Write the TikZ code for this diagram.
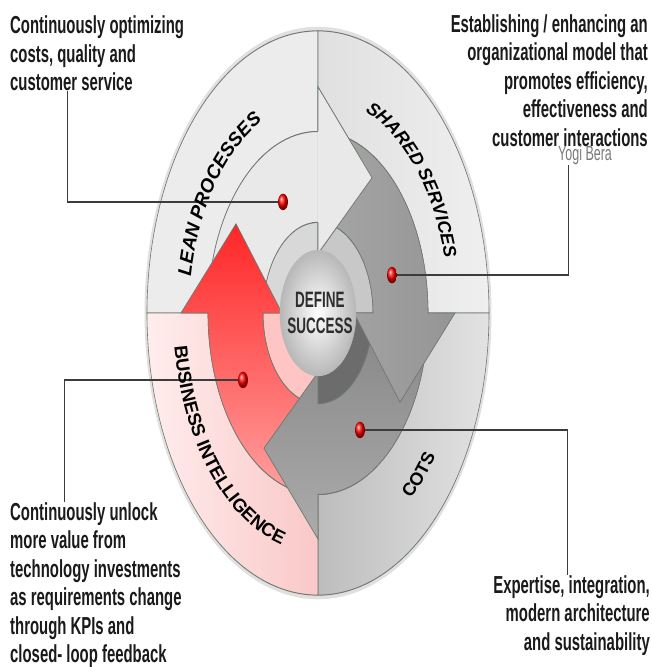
\documentclass[tikz,border=0pt]{standalone}
\usepackage{fontspec}
\setmainfont{Liberation Sans}
\usetikzlibrary{decorations.text}

\newcommand{\noteFont}{\fontsize{14.9}{17.3}\selectfont\bfseries}
\newcommand{\bandFont}{\fontsize{18}{20}\selectfont\bfseries}

\tikzset{
    outline/.style={draw=lineGrey, line width=0.6pt},
    conn/.style={draw=connGrey, line width=0.7pt},
    dot/.style={circle, inner sep=0pt, minimum size=10pt, shade, ball color=red},
    note/.style={font=\noteFont, text=noteBlack, inner sep=0pt},
    bandLabel/.style={decorate, decoration={text along path, text={#1}}},
    leanBand/.style={fill=leanBandC},
    sharedBand/.style={left color=sharedBandA, right color=sharedBandB},
    cotsBand/.style={left color=cotsBandA, right color=cotsBandB},
    biBand/.style={left color=biBandA, right color=biBandB}
}

\begin{document}
\begin{tikzpicture}[x=1pt, y=1pt]
    \def\rOut{171}
    \def\rBand{110}
    \def\rIn{55}
    \def\rHeadIn{36}
    \def\rHeadOut{137}
    \def\rTip{98.2}

    \definecolor{lineGrey}{HTML}{6E7A6E}
    \definecolor{connGrey}{HTML}{3C3C3C}
    \definecolor{noteBlack}{HTML}{1A1A1A}
    \definecolor{yogiGrey}{HTML}{7A7A7A}
    \definecolor{centreText}{HTML}{2E2E2E}
    \definecolor{leanBandC}{HTML}{ECECEC}
    \definecolor{sharedBandA}{HTML}{E0E0E0}
    \definecolor{sharedBandB}{HTML}{EFEFEF}
    \definecolor{cotsBandA}{HTML}{BDBDBD}
    \definecolor{cotsBandB}{HTML}{E2E2E2}
    \definecolor{biBandA}{HTML}{FFEDED}
    \definecolor{biBandB}{HTML}{FAC8C8}
    \definecolor{leanBody}{HTML}{E9E9E9}
    \definecolor{sharedBodyA}{HTML}{A6A6A6}
    \definecolor{sharedBodyB}{HTML}{959595}
    \definecolor{cotsBodyA}{HTML}{868686}
    \definecolor{cotsBodyB}{HTML}{ABABAB}
    \definecolor{biBodyA}{HTML}{FF2626}
    \definecolor{biBodyB}{HTML}{FFA0A0}
    \definecolor{leanInner}{HTML}{D8D8D8}
    \definecolor{sharedInner}{HTML}{C8C8C8}
    \definecolor{cotsInner}{HTML}{6C6C6C}
    \definecolor{biInner}{HTML}{FFC4C4}

    \useasboundingbox (-318,-354) rectangle (334,313);

    \begin{scope}[transform canvas={yscale=1.65}]
        % Outer ring, one band per quadrant
        \draw[black!12, line width=3pt] (0,0) circle[radius=\rOut+1];
        \foreach \a/\sty in {90/leanBand, 0/sharedBand, 270/cotsBand, 180/biBand}
            \path[outline, \sty] (\a:\rOut) arc[start angle=\a, end angle=\a+90, radius=\rOut]
                -- (\a+90:\rBand) arc[start angle=\a+90, end angle=\a, radius=\rBand] -- cycle;

        % Inner ring round the centre
        \foreach \a/\col in {90/leanInner, 0/sharedInner, 270/cotsInner, 180/biInner}
            \filldraw[fill=\col, outline] (\a:\rIn) arc[start angle=\a, end angle=\a+90, radius=\rIn]
                -- (\a+90:30) arc[start angle=\a+90, end angle=\a, radius=30] -- cycle;

        % Arrows, clockwise
        \path[outline, fill=leanBody] (180:\rBand) arc[start angle=180, end angle=90, radius=\rBand]
            -- (90:\rHeadOut) -- (56.6:\rTip) -- (90:\rHeadIn) -- (90:\rIn)
            arc[start angle=90, end angle=180, radius=\rIn];
        \path[outline, top color=biBodyA, bottom color=biBodyB] (270:\rBand) arc[start angle=270, end angle=180, radius=\rBand]
            -- (180:\rHeadOut) -- (146.6:\rTip) -- (180:\rHeadIn) -- (180:\rIn)
            arc[start angle=180, end angle=270, radius=\rIn];
        \path[outline, top color=cotsBodyA, bottom color=cotsBodyB] (0:\rBand) arc[start angle=0, end angle=-90, radius=\rBand]
            -- (-90:\rHeadOut) -- (-123.4:\rTip) -- (-90:\rHeadIn) -- (-90:\rIn)
            arc[start angle=-90, end angle=0, radius=\rIn];
        \path[outline, left color=sharedBodyA, right color=sharedBodyB] (90:\rBand) arc[start angle=90, end angle=0, radius=\rBand]
            -- (0:\rHeadOut) -- (-33.4:\rTip) -- (0:\rHeadIn) -- (0:\rIn)
            arc[start angle=0, end angle=90, radius=\rIn];
        % Head of the first arrow again, over the last one
        \fill[leanBody] (90:\rHeadIn) -- (90:\rHeadOut) -- (56.6:\rTip) -- cycle;
        \draw[outline] (90:\rBand) -- (90:\rHeadOut) -- (56.6:\rTip) -- (90:\rHeadIn) -- (90:\rIn);

        % Centre
        \shade[inner color=white, outer color=black!28] (0,0) circle[radius=38];
        \draw[lineGrey!50, line width=0.5pt] (0,0) circle[radius=38];
        \node[font=\fontsize{13.5}{15.8}\selectfont\bfseries, text=centreText, align=center, inner sep=0pt] (success) at (2,0) {DEFINE\\SUCCESS};

        % Notes
        \node[note, anchor=north west, align=left] (tLean) at (-308,180.4) {Continuously optimizing\\costs, quality and\\customer service};
        \node[note, anchor=north east, align=right] (tShared) at (330,181.2) {Establishing / enhancing an\\organizational model that\\promotes efficiency,\\effectiveness and\\customer interactions};
        \node[note, anchor=north west, align=left] (tBI) at (-308,-114.6) {Continuously unlock\\more value from\\technology investments\\as requirements change\\through KPIs and\\closed- loop feedback};
        \node[note, anchor=north east, align=right] (tCots) at (332,-158.8) {Expertise, integration,\\modern architecture\\and sustainability};
        \node[anchor=base west, font=\fontsize{12.5}{14}\selectfont, text=yogiGrey, inner sep=0pt] (yogi) at (240,92.7) {Yogi Bera};

        % Leader lines and dots
        \coordinate (pLean) at (-35,67.3);
        \coordinate (pShared) at (74,23);
        \coordinate (pBI) at (-75,-40.6);
        \coordinate (pCots) at (42,-70.9);
        \draw[conn] (pLean) -| ([xshift=57pt]tLean.south west);
        \draw[conn] (pShared) -| ([xshift=10pt]yogi.south west);
        \draw[conn] (pBI) -| ([xshift=54pt]tBI.north west);
        \draw[conn] (pCots) -| ([xshift=-83pt]tCots.north east);
        \node[dot] (dLean) at (pLean) {};
        \node[dot] (dShared) at (pShared) {};
        \node[dot] (dBI) at (pBI) {};
        \node[dot] (dCots) at (pCots) {};
    \end{scope}

    % Band labels along the ring
    \path[bandLabel={|\fontsize{19}{21}\selectfont\bfseries\itshape|LEAN PROCESSES}] (170:129 and 212.9) arc[start angle=170, end angle=80, x radius=129, y radius=212.9];
    \path[bandLabel={|\bandFont\itshape|SHARED SERVICES}] (69:131 and 216.2) arc[start angle=69, end angle=-20, x radius=131, y radius=216.2];
    \path[bandLabel={|\fontsize{18.5}{20}\selectfont\bfseries|BUSINESS INTELLIGENCE}] (188:145 and 239.3) arc[start angle=188, end angle=280, x radius=145, y radius=239.3];
    \path[bandLabel={|\bandFont|COTS}] (-50.5:146 and 240.9) arc[start angle=-50.5, end angle=10, x radius=146, y radius=240.9];

\end{tikzpicture}
\end{document}
